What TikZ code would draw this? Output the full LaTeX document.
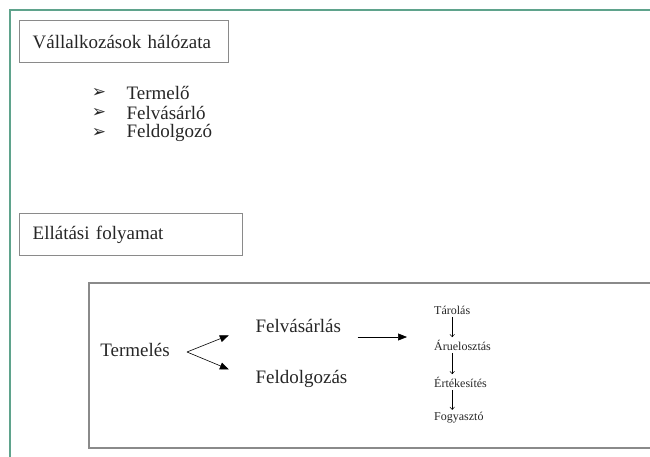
\documentclass[tikz,border=0pt]{standalone}
\usepackage{fontspec}
\setmainfont{Liberation Serif}
\newfontfamily\symfont{DejaVu Sans}
\usetikzlibrary{positioning, arrows.meta}

\definecolor{framegreen}{HTML}{5FA38C}
\definecolor{boxgray}{HTML}{8A8A8A}

\begin{document}
\begin{tikzpicture}
[x=1pt,y=-1pt,
                    node distance=20pt,on grid,
                    every node/.style={text=black!85},
                    big/.style={font=\fontsize{19}{20}\selectfont},
                    small/.style={font=\fontsize{12}{13}\selectfont, inner sep=1pt},
                    titlebox/.style={draw=boxgray, line width=1.3pt, big, anchor=north west,
                        minimum height=42pt, inner xsep=13pt, align=left},
                    bullet/.style={font=\symfont\fontsize{17}{17}\selectfont, inner sep=0pt},
                    bigarrow/.style={-{Triangle[length=9pt,width=7pt]}, line width=0.6pt},
                    smallarrow/.style={-{To[length=3pt,width=5pt]}, line width=0.5pt,
                        shorten <=1.5pt, shorten >=1.5pt}]
\useasboundingbox (0,0) rectangle (650,456);

% outer frame
\draw[framegreen, line width=2.5pt] (652,10) -- (10,10) -- (10,458);

\node[titlebox, text width=183pt] (halo) at (19,20) {V\'allalkoz\'asok h\'al\'ozata};

\node[big, anchor=west] (termelo) at (123,93) {Termel\H{o}};
\node[big, below=of termelo.west, anchor=west] (felvasarlo) {Felv\'as\'arl\'o};
\node[big, below=of felvasarlo.west, anchor=west] (feldolgozo) {Feldolgoz\'o};
\foreach \item in {termelo, felvasarlo, feldolgozo}
	\node[bullet, left=24pt of \item.west, anchor=center] {➢};

\node[titlebox, text width=197pt] (ellatas) at (19,213) {Ell\'at\'asi folyamat};

% process box
\draw[boxgray, line width=1.3pt] (89,283) rectangle (665,448);

\node[big] (termeles) at (135,350) {Termel\'es};
\node[big, anchor=west] (felvasarlas) at (252,326) {Felv\'as\'arl\'as};
\node[big, anchor=west] (feldolgozas) at (252,379) {Feldolgoz\'as};
\coordinate (split) at (187,352);
\coordinate (store) at (407,337);

\node[small, anchor=west] (tarolas) at (433,310) {T\'arol\'as};
\node[small, anchor=west] (aru) at (433,345) {\'Arueloszt\'as};
\node[small, anchor=west] (ertek) at (433,382) {\'Ert\'ekes\'it\'es};
\node[small, anchor=west] (fogy) at (433,418) {Fogyaszt\'o};

\path
	(split) edge [bigarrow, shorten >=25pt] (felvasarlas.west)
		edge [bigarrow, shorten >=25pt] (feldolgozas.west)
	(felvasarlas.east |- store) edge [bigarrow, shorten <=13pt] (store)
	(tarolas) edge [smallarrow] (tarolas |- aru.north)
	(aru.south -| tarolas) edge [smallarrow] (tarolas |- ertek.north)
	(ertek.south -| tarolas) edge [smallarrow] (tarolas |- fogy.north);

\end{tikzpicture}
\end{document}
